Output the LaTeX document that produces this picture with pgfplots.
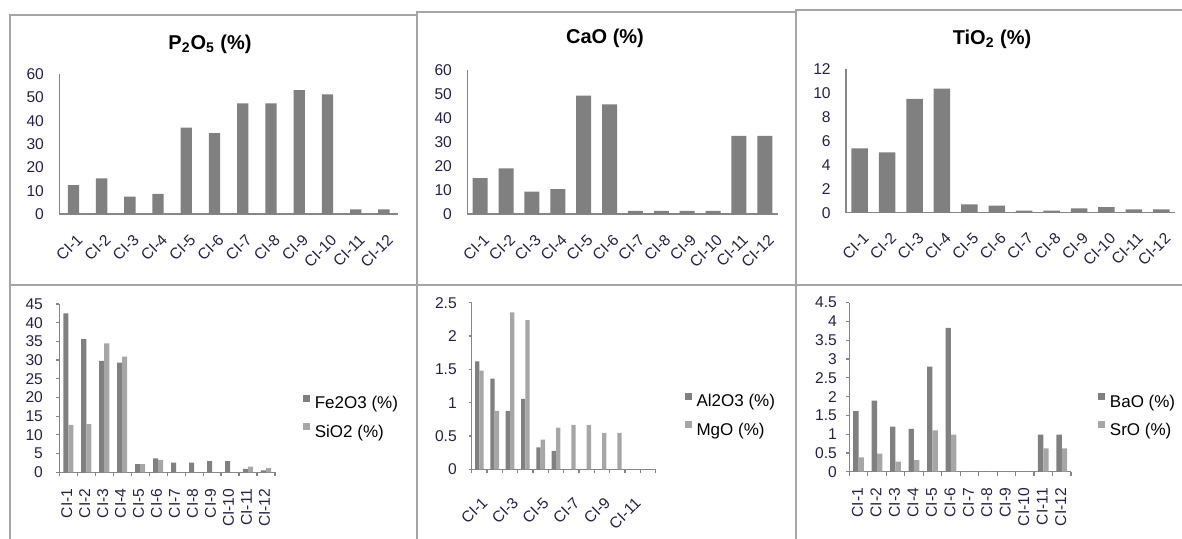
\documentclass[border=0pt]{standalone}
\usepackage{fontspec}
\setmainfont{Liberation Sans}
\usepackage{pgfplots}
\pgfplotsset{compat=1.18}
\definecolor{bardark}{RGB}{128,128,128}
\definecolor{barlight}{RGB}{166,166,166}
\definecolor{axisgray}{RGB}{134,134,134}
\definecolor{framegray}{RGB}{165,165,165}
\definecolor{ticktext}{RGB}{40,32,72}
\pgfplotsset{
  base/.style={
    scale only axis, anchor=south west,
    axis lines*=left,
    axis line style={draw=axisgray, line width=0.6pt},
    xmin=0.5, xmax=12.5, ymin=0,
    enlargelimits=false,
    xtick={1,...,12},
    xticklabels={CI-1,CI-2,CI-3,CI-4,CI-5,CI-6,CI-7,CI-8,CI-9,CI-10,CI-11,CI-12},
    /pgf/number format/assume math mode=true,
    tick label style={font=\fontsize{7.8}{9}\selectfont, text=ticktext},
    tick style={draw=axisgray, line width=0.6pt},
    ybar,
    every axis plot/.append style={draw=none},
  },
  topc/.style={base,
    major tick length=0pt,
    yticklabel style={anchor=east, inner sep=0pt, xshift=-7.5pt},
    xticklabel style={xshift=3.3pt, yshift=-11.5pt, rotate=45, anchor=east, inner sep=0pt},
    title style={font=\bfseries\fontsize{10}{12}\selectfont, anchor=center, text=black, yshift=-6.5pt},
  },
  botc/.style={base,
    tick align=outside,
    major tick length=1.5pt,
    minor tick length=2pt,
    minor xtick={0.5,1.5,...,12.5},
    major x tick style={draw=none},
    legend image code/.code={\draw[##1,draw=none] (0pt,1.2pt) rectangle (3.3pt,4.8pt);},
    legend cell align=left,
    legend style={draw=none, fill=none, anchor=west, inner sep=0pt, outer sep=0pt,
      font=\fontsize{8.5}{10}\selectfont, row sep=5.5pt, column sep=2.5pt,
      nodes={inner sep=0pt, text=black}},
  },
}
\begin{document}
\begin{tikzpicture}
\path[use as bounding box] (0pt,0pt) rectangle (591pt,269.5pt);
% panel frames
\begin{scope}[framegray, line width=1pt]
\draw (5pt,-2pt) -- (5pt,262pt) -- (208.25pt,262pt);
\draw (208.25pt,-2pt) -- (208.25pt,263.5pt) -- (398pt,263.5pt);
\draw (398pt,-2pt) -- (398pt,264.5pt) -- (595pt,264.5pt);
\draw (5pt,127pt) -- (595pt,127pt);
\end{scope}

% P2O5
\begin{axis}[topc, at={(29.65pt,162.5pt)}, width=169.35pt, height=70pt,
  ymax=60, ytick={0,10,...,60}, bar width=0.4,
  title={P\textsubscript{2}O\textsubscript{5} (\%)}, title style={at={(0.445,1.221)}}]
\addplot[fill=bardark] coordinates {(1,12.4) (2,15.3) (3,7.4) (4,8.6) (5,37.0) (6,34.7) (7,47.4) (8,47.4) (9,53.1) (10,51.3) (11,2.0) (12,2.0)};
\end{axis}

% CaO
\begin{axis}[topc, at={(233.65pt,162.5pt)}, width=155.2pt, height=72pt,
  ymax=60, ytick={0,10,...,60}, bar width=0.58,
  title={CaO (\%)}, title style={at={(0.4436,1.229)}}]
\addplot[fill=bardark] coordinates {(1,14.9) (2,19.0) (3,9.3) (4,10.4) (5,49.3) (6,45.7) (7,1.25) (8,1.25) (9,1.25) (10,1.25) (11,32.6) (12,32.6)};
\end{axis}

% TiO2
\begin{axis}[topc, at={(423pt,163.15pt)}, width=164.5pt, height=71.85pt,
  ymax=12, ytick={0,2,...,12}, bar width=0.6,
  title={TiO\textsubscript{2} (\%)}, title style={at={(0.4438,1.216)}}]
\addplot[fill=bardark] coordinates {(1,5.37) (2,5.04) (3,9.5) (4,10.36) (5,0.70) (6,0.59) (7,0.17) (8,0.17) (9,0.36) (10,0.47) (11,0.28) (12,0.28)};
\end{axis}

% Fe2O3 / SiO2
\begin{axis}[botc, at={(29.65pt,33.35pt)}, width=107.85pt, height=84.15pt,
  ymax=45, ytick={0,5,...,45}, bar width=0.28,
  yticklabel style={anchor=east, inner sep=0pt, xshift=-6.5pt},
  xticklabel style={xshift=-0.8pt, yshift=-6.5pt, rotate=90, anchor=east, inner sep=0pt},
  legend style={at={(1.131,0.3256)}}]
\addplot[fill=bardark, bar shift=-0.14] coordinates {(1,42.5) (2,35.6) (3,29.8) (4,29.3) (5,2.2) (6,3.7) (7,2.6) (8,2.6) (9,3.0) (10,3.0) (11,0.9) (12,0.5)};
\addplot[fill=barlight, bar shift=0.14] coordinates {(1,12.7) (2,12.9) (3,34.5) (4,30.9) (5,2.2) (6,3.3) (7,0) (8,0) (9,0) (10,0) (11,1.5) (12,1.1)};
\legend{Fe2O3 (\%), SiO2 (\%)}
\end{axis}

% Al2O3 / MgO
\begin{axis}[botc, at={(235.85pt,34.85pt)}, width=92pt, height=83.3pt,
  ymax=2.5, ytick={0,0.5,...,2.5}, bar width=0.28,
  xtick={1,3,...,11}, xticklabels={CI-1,CI-3,CI-5,CI-7,CI-9,CI-11},
  yticklabel style={anchor=east, inner sep=0pt, xshift=-5.8pt},
  xticklabel style={xshift=2.8pt, yshift=-13.8pt, rotate=45, anchor=east, inner sep=0pt},
  legend style={at={(1.159,0.3235)}}]
\addplot[fill=bardark, bar shift=-0.14] coordinates {(1,1.62) (2,1.36) (3,0.875) (4,1.055) (5,0.33) (6,0.275) (7,0) (8,0) (9,0) (10,0) (11,0) (12,0)};
\addplot[fill=barlight, bar shift=0.14] coordinates {(1,1.48) (2,0.875) (3,2.355) (4,2.24) (5,0.445) (6,0.625) (7,0.665) (8,0.665) (9,0.545) (10,0.545) (11,0) (12,0)};
\legend{Al2O3 (\%), MgO (\%)}
\end{axis}

% BaO / SrO
\begin{axis}[botc, at={(424.65pt,33.65pt)}, width=110.85pt, height=84.5pt,
  ymax=4.5, ytick={0,0.5,...,4.5}, bar width=0.29,
  yticklabel style={anchor=east, inner sep=0pt, xshift=-4.5pt},
  xticklabel style={xshift=-0.5pt, yshift=-6.5pt, rotate=90, anchor=east, inner sep=0pt},
  legend style={at={(1.1235,0.3325)}}]
\addplot[fill=bardark, bar shift=-0.145] coordinates {(1,1.61) (2,1.89) (3,1.20) (4,1.14) (5,2.80) (6,3.83) (7,0) (8,0) (9,0) (10,0) (11,0.99) (12,0.99)};
\addplot[fill=barlight, bar shift=0.145] coordinates {(1,0.38) (2,0.48) (3,0.27) (4,0.31) (5,1.10) (6,0.99) (7,0) (8,0) (9,0) (10,0) (11,0.62) (12,0.62)};
\legend{BaO (\%), SrO (\%)}
\end{axis}
\end{tikzpicture}
\end{document}
